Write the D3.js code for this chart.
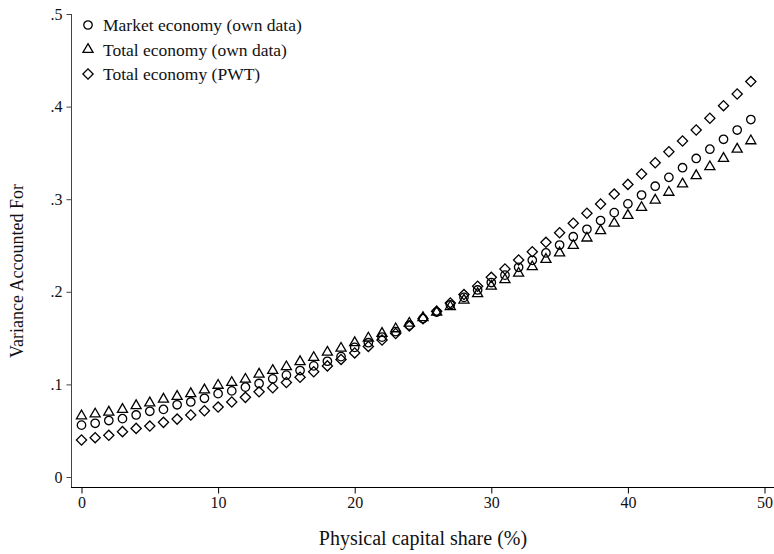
<!DOCTYPE html>
<html>
<head>
<meta charset="utf-8">
<script src="https://cdn.jsdelivr.net/npm/d3@7"></script>
<style>
  body { margin: 0; background: #fff; }
  text { font-family: "Liberation Serif", "DejaVu Serif", serif; fill: #111; }
</style>
</head>
<body>
<div id="chart"></div>
<script>
var shares = d3.range(0, 50);

var marketOwn = [0.056, 0.058, 0.061, 0.063, 0.067, 0.071, 0.073, 0.078, 0.081, 0.085,
  0.090, 0.093, 0.097, 0.101, 0.106, 0.110, 0.115, 0.120, 0.125, 0.130,
  0.140, 0.145, 0.151, 0.157, 0.164, 0.171, 0.178, 0.186, 0.194, 0.202,
  0.210, 0.218, 0.2265, 0.234, 0.242, 0.2505, 0.2595, 0.2675, 0.277, 0.2855,
  0.295, 0.3045, 0.314, 0.3236, 0.334, 0.344, 0.354, 0.3647, 0.3747, 0.386];

var totalOwn = [0.066, 0.068, 0.070, 0.073, 0.077, 0.080, 0.084, 0.087, 0.090, 0.094,
  0.099, 0.102, 0.1055, 0.111, 0.115, 0.119, 0.1245, 0.129, 0.1347, 0.139,
  0.145, 0.150, 0.155, 0.160, 0.166, 0.172, 0.178, 0.184, 0.191, 0.198,
  0.206, 0.213, 0.220, 0.227, 0.235, 0.242, 0.250, 0.258, 0.266, 0.274,
  0.2825, 0.291, 0.299, 0.3074, 0.3164, 0.3254, 0.335, 0.344, 0.354, 0.363];

var totalPwt = [0.040, 0.0425, 0.045, 0.049, 0.0525, 0.055, 0.059, 0.0625, 0.067, 0.0715,
  0.0755, 0.081, 0.086, 0.092, 0.0964, 0.102, 0.1077, 0.1137, 0.120, 0.127,
  0.134, 0.141, 0.148, 0.155, 0.163, 0.171, 0.179, 0.188, 0.197, 0.206,
  0.2156, 0.2246, 0.2343, 0.2433, 0.2534, 0.2638, 0.274, 0.2848, 0.2948, 0.3055,
  0.316, 0.3272, 0.3394, 0.3513, 0.3628, 0.3747, 0.3874, 0.401, 0.4136, 0.427];

var seriesNames = ['Market economy (own data)', 'Total economy (own data)', 'Total economy (PWT)'];
var xTicks = [0, 10, 20, 30, 40, 50];
var yTicks = [0, 0.1, 0.2, 0.3, 0.4, 0.5];

var width = 774, height = 554;

var svg = d3.select('#chart').append('svg')
    .attr('width', width)
    .attr('height', height);

var xScale = d3.scaleLinear().domain([0, 50]).range([81.5, 764.5]),
    yScale = d3.scaleLinear().domain([0, 0.5]).range([477, 14]);

var series = [
  {name: seriesNames[0], values: marketOwn, shape: 'circle'},
  {name: seriesNames[1], values: totalOwn, shape: 'triangle'},
  {name: seriesNames[2], values: totalPwt, shape: 'diamond'}
];

function marker(shape) {
  if (shape == 'circle') return d3.symbol().type(d3.symbolCircle).size(56)();
  if (shape == 'triangle') return d3.symbol().type(d3.symbolTriangle).size(44)();
  return d3.symbol().type(d3.symbolSquare).size(52)();
}
function rot(shape) { return shape == 'diamond' ? ' rotate(45)' : ''; }

// y axis (offset from the plot like Stata)
var yAxis = svg.append('g')
    .attr('transform', 'translate(71.5,0)')
    .call(d3.axisLeft(yScale).tickValues(yTicks).tickSize(5).tickPadding(4)
      .tickFormat(function(d) { return d === 0 ? '0' : d3.format('.1f')(d).replace(/^0/, ''); }));
yAxis.select('.domain').attr('stroke', '#444').attr('d', 'M0,' + yScale(0.5) + 'V487');
yAxis.selectAll('.tick line').attr('stroke', '#444');
yAxis.selectAll('text').style('font-size', '16px').attr('fill', '#111');

var xAxis = svg.append('g')
    .attr('transform', 'translate(0,487.5)')
    .call(d3.axisBottom(xScale).tickValues(xTicks).tickSize(6).tickPadding(3));
xAxis.select('.domain').attr('stroke', '#000').attr('d', 'M71,0H' + width);
xAxis.selectAll('text').style('font-size', '16px').attr('fill', '#111');

svg.append('text')
    .attr('x', 423)
    .attr('y', 545)
    .style('font-size', '20px')
    .style('text-anchor', 'middle')
    .text('Physical capital share (%)');

svg.append('text')
    .attr('transform', 'translate(23,271) rotate(-90)')
    .style('font-size', '18px')
    .style('text-anchor', 'middle')
    .text('Variance Accounted For');

// Points
series.forEach(function(s) {
  svg.append('g').selectAll('path')
      .data(s.values)
    .enter().append('path')
      .attr('d', marker(s.shape))
      .attr('transform', function(d, i) {
        return 'translate(' + xScale(shares[i]) + ',' + yScale(d) + ')' + rot(s.shape);
      })
      .style('fill', 'none')
      .style('stroke', '#000')
      .style('stroke-width', 1.3);
});

// Legend
var legend = svg.selectAll('.legend')
    .data(series)
  .enter().append('g')
    .attr('class', 'legend')
    .attr('transform', function(d, i) { return 'translate(88,' + (25 + i * 24.5) + ')'; });

legend.append('path')
    .attr('d', function(d) { return marker(d.shape); })
    .attr('transform', function(d) { return rot(d.shape).trim(); })
    .style('fill', 'none')
    .style('stroke', '#000')
    .style('stroke-width', 1.3);

legend.append('text')
    .attr('x', 15)
    .attr('dy', '.35em')
    .style('font-size', '17.5px')
    .text(function(d) { return d.name; });
</script>
</body>
</html>
